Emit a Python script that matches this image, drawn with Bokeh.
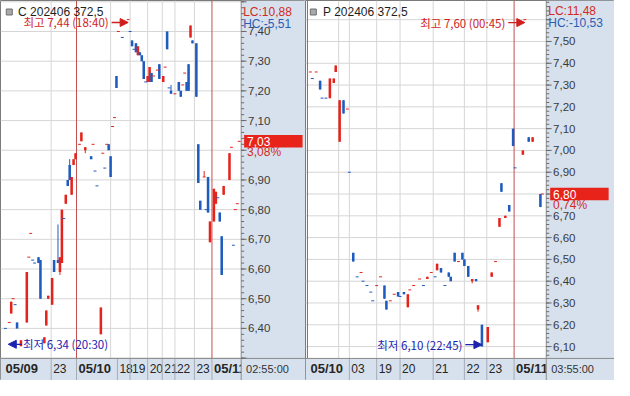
import math
import numpy as np
from bokeh.plotting import figure
from bokeh.layouts import row
from bokeh.models import ColumnDataSource, Range1d, Arrow, NormalHead
from bokeh.core.properties import value
from bokeh.embed import file_html
from bokeh.resources import INLINE

# ======================= DATA =======================
# ---- Call option  C 202406 372.5 ----
C_TITLE = "C 202406 372,5"
C_BASE = 6.82
C_SLOT = [1, 3, 4, 5, 6, 7, 9, 12, 13, 14, 15, 16, 18, 19, 21, 22, 23, 25, 26, 28,
          29, 30, 31, 32, 33, 34, 35, 36, 37, 39, 40, 42, 45, 46, 47, 48, 50, 51, 52, 53,
          54, 55, 56, 57, 58, 59, 61, 64, 65, 66, 67, 68, 69, 70, 71, 72, 73, 74, 75, 76,
          77, 79, 80, 82, 83, 84, 85, 86, 88, 90, 91, 92, 93, 94, 95, 96, 97, 99, 100, 101,
          103, 104, 105, 106, 108, 109, 110, 111, 112, 113, 116, 117, 118, 119, 120, 121]
C_OPEN = [6.40, 6.42, 6.45, 6.50, 6.48, 6.42, 6.34, 6.42, 6.64, 6.72,
          6.63, 6.62, 6.64, 6.63, 6.35, 6.41, 6.50, 6.48, 6.63, 6.63,
          6.59, 6.62, 6.77, 6.82, 6.90, 6.95, 6.85, 6.95, 6.97, 7.02,
          7.03, 7.00, 6.98, 7.02, 6.93, 6.88, 6.38, 6.99, 6.94, 7.02,
          7.02, 6.98, 7.08, 7.11, 7.25, 7.40, 7.38, 7.44, 7.40, 7.37,
          7.34, 7.36, 7.32, 7.33, 7.32, 7.30, 7.23, 7.23, 7.23, 7.26,
          7.25, 7.27, 7.29, 7.23, 7.28, 7.40, 7.21, 7.20, 7.19, 7.23,
          7.20, 7.22, 7.26, 7.23, 7.29, 7.38, 7.37, 7.36, 7.02, 6.83,
          6.91, 6.80, 6.91, 6.69, 6.76, 6.82, 6.84, 6.79, 6.71, 6.85,
          6.90, 7.01, 6.68, 6.80, 6.82, 7.03]
C_HIGH = [6.40, 6.42, 6.49, 6.50, 6.48, 6.42, 6.36, 6.59, 6.64, 6.72,
          6.63, 6.62, 6.64, 6.63, 6.37, 6.46, 6.51, 6.57, 6.63, 6.75,
          6.64, 6.80, 6.77, 6.85, 6.90, 6.97, 6.91, 6.97, 6.99, 7.02,
          7.06, 7.01, 6.98, 7.02, 6.93, 6.88, 6.47, 6.99, 6.94, 7.02,
          7.02, 6.98, 7.08, 7.11, 7.25, 7.40, 7.38, 7.44, 7.40, 7.37,
          7.34, 7.36, 7.35, 7.33, 7.32, 7.30, 7.23, 7.25, 7.28, 7.26,
          7.25, 7.27, 7.29, 7.25, 7.28, 7.40, 7.21, 7.22, 7.19, 7.23,
          7.20, 7.22, 7.26, 7.23, 7.29, 7.42, 7.37, 7.36, 7.02, 6.83,
          6.93, 6.80, 6.91, 6.76, 6.87, 6.86, 6.84, 6.79, 6.71, 6.88,
          6.99, 7.01, 6.68, 6.80, 6.82, 7.03]
C_LOW = [6.40, 6.42, 6.45, 6.50, 6.48, 6.40, 6.34, 6.42, 6.64, 6.72,
         6.63, 6.62, 6.62, 6.50, 6.35, 6.41, 6.50, 6.48, 6.59, 6.62,
         6.58, 6.62, 6.77, 6.82, 6.88, 6.90, 6.85, 6.95, 6.97, 7.02,
         7.03, 6.99, 6.97, 7.02, 6.93, 6.88, 6.38, 6.99, 6.94, 7.02,
         7.00, 6.91, 7.08, 7.11, 7.21, 7.40, 7.38, 7.44, 7.40, 7.35,
         7.34, 7.33, 7.32, 7.32, 7.30, 7.24, 7.23, 7.23, 7.23, 7.23,
         7.25, 7.27, 7.24, 7.23, 7.28, 7.34, 7.21, 7.19, 7.19, 7.20,
         7.18, 7.22, 7.26, 7.20, 7.20, 7.38, 7.36, 7.18, 6.89, 6.80,
         6.91, 6.80, 6.79, 6.69, 6.76, 6.82, 6.84, 6.76, 6.58, 6.85,
         6.90, 7.01, 6.68, 6.80, 6.82, 7.03]
C_CLOSE = [6.40, 6.42, 6.49, 6.50, 6.48, 6.40, 6.36, 6.59, 6.64, 6.72,
           6.63, 6.62, 6.62, 6.50, 6.37, 6.46, 6.51, 6.57, 6.59, 6.62,
           6.64, 6.80, 6.77, 6.85, 6.88, 6.90, 6.91, 6.97, 6.99, 7.02,
           7.06, 7.01, 6.97, 7.02, 6.93, 6.88, 6.47, 6.99, 6.94, 7.02,
           7.00, 6.91, 7.08, 7.11, 7.21, 7.40, 7.38, 7.44, 7.40, 7.35,
           7.34, 7.33, 7.35, 7.32, 7.30, 7.24, 7.23, 7.25, 7.28, 7.23,
           7.25, 7.27, 7.24, 7.25, 7.28, 7.34, 7.21, 7.19, 7.19, 7.20,
           7.18, 7.22, 7.26, 7.20, 7.20, 7.42, 7.36, 7.18, 6.89, 6.80,
           6.91, 6.80, 6.79, 6.76, 6.87, 6.86, 6.84, 6.76, 6.58, 6.88,
           6.99, 7.01, 6.68, 6.80, 6.82, 7.03]
C_DIR = list("duuudduuuu" "dddduuuudd" "uududduuuu" "uududduudu" "dduudududd"
             "ddudddduud" "uuduudddud" "duuddudddd" "udduuudddu" "uuduuu")
C_HIGH_TIME = "18:40"
C_LOW_TIME = "20:30"
C_HOUR_LINES = [24.5, 55, 65, 74, 81.5, 88, 98]
C_DAY_LINES = [37.5, 107]
C_XTICK_POS = [0, 24.5, 37.5, 58.5, 65, 74, 81.5, 88, 98, 107]
C_XTICK_LAB = ["05/09", "23", "05/10", "18", "19", "20", "21", "22", "23", "05/11"]
C_XTICK_BOLD = [1, 0, 1, 0, 0, 0, 0, 0, 0, 1]
C_CLOCK = "02:55:00"
C_YTICK_LAB = [6.40, 6.50, 6.60, 6.70, 6.80, 6.90, 7.10, 7.20, 7.30, 7.40]

# ---- Put option  P 202406 372.5 ----
P_TITLE = "P 202406 372,5"
P_BASE = 6.75
P_SLOT = [1, 2, 4, 6, 7, 9, 11, 13, 14, 16, 18, 20, 21, 23, 25, 27, 28, 30, 32, 33,
          35, 37, 39, 40, 42, 44, 46, 47, 49, 51, 52, 54, 57, 59, 61, 63, 65, 66, 68, 70,
          72, 73, 75, 77, 79, 80, 82, 84, 86, 87, 89, 92, 94, 96, 98, 99, 101, 103, 105, 106,
          110, 111, 113, 115, 119, 120]
P_OPEN = [7.36, 7.33, 7.36, 7.32, 7.24, 7.24, 7.24, 7.31, 7.36, 7.04,
          7.23, 7.19, 6.90, 6.53, 6.42, 6.44, 6.40, 6.38, 6.35, 6.31,
          6.38, 6.42, 6.38, 6.31, 6.31, 6.34, 6.35, 6.33, 6.35, 6.28,
          6.36, 6.38, 6.41, 6.38, 6.41, 6.44, 6.42, 6.45, 6.46, 6.38,
          6.44, 6.42, 6.53, 6.49, 6.53, 6.50, 6.47, 6.40, 6.41, 6.27,
          6.20, 6.12, 6.42, 6.49, 6.65, 6.85, 6.69, 6.75, 7.10, 6.92,
          6.98, 7.60, 7.06, 7.04, 6.80, 6.80]
P_HIGH = [7.36, 7.33, 7.36, 7.32, 7.24, 7.24, 7.33, 7.33, 7.39, 7.23,
          7.23, 7.19, 6.90, 6.53, 6.42, 6.44, 6.40, 6.38, 6.35, 6.31,
          6.38, 6.42, 6.38, 6.31, 6.31, 6.34, 6.35, 6.33, 6.35, 6.34,
          6.36, 6.38, 6.41, 6.38, 6.42, 6.44, 6.42, 6.48, 6.46, 6.38,
          6.44, 6.42, 6.53, 6.49, 6.53, 6.50, 6.47, 6.41, 6.41, 6.29,
          6.20, 6.19, 6.44, 6.49, 6.69, 6.85, 6.70, 6.75, 7.10, 6.92,
          7.00, 7.60, 7.06, 7.06, 6.80, 6.80]
P_LOW = [7.36, 7.33, 7.36, 7.28, 7.24, 7.24, 7.24, 7.31, 7.36, 7.04,
         7.17, 7.19, 6.90, 6.49, 6.42, 6.44, 6.40, 6.38, 6.35, 6.31,
         6.38, 6.42, 6.32, 6.27, 6.31, 6.34, 6.33, 6.33, 6.34, 6.28,
         6.36, 6.38, 6.41, 6.38, 6.41, 6.44, 6.42, 6.45, 6.44, 6.38,
         6.42, 6.40, 6.49, 6.49, 6.50, 6.47, 6.42, 6.39, 6.40, 6.26,
         6.10, 6.12, 6.42, 6.49, 6.65, 6.81, 6.69, 6.72, 7.02, 6.92,
         6.98, 7.60, 7.04, 7.04, 6.74, 6.80]
P_CLOSE = [7.36, 7.33, 7.36, 7.28, 7.24, 7.24, 7.33, 7.33, 7.39, 7.23,
           7.17, 7.19, 6.90, 6.49, 6.42, 6.44, 6.40, 6.38, 6.35, 6.31,
           6.38, 6.42, 6.32, 6.27, 6.31, 6.34, 6.33, 6.33, 6.34, 6.34,
           6.36, 6.38, 6.41, 6.38, 6.42, 6.44, 6.42, 6.48, 6.44, 6.38,
           6.42, 6.40, 6.49, 6.49, 6.50, 6.47, 6.42, 6.41, 6.40, 6.29,
           6.10, 6.19, 6.44, 6.49, 6.69, 6.81, 6.70, 6.72, 7.02, 6.92,
           7.00, 7.60, 7.04, 7.06, 6.74, 6.80]
P_DIR = list("ududdduuuu" "dudddudddd" "uudduudddu" "uuuduududd" "dddudddudu"
             "duuuududdd" "uududu")
P_HIGH_TIME = "00:45"
P_LOW_TIME = "22:45"
P_HOUR_LINES = [15.5, 21, 35, 47, 64, 80, 91.5]
P_DAY_LINES = [-0.5, 105.5]
P_XTICK_POS = [0, 21, 35, 47, 64, 80, 91.5, 105.5]
P_XTICK_LAB = ["05/10", "03", "19", "20", "21", "22", "23", "05/11"]
P_XTICK_BOLD = [1, 0, 0, 0, 0, 0, 0, 1]
P_CLOCK = "03:55:00"
P_YTICK_LAB = [6.10, 6.20, 6.30, 6.40, 6.50, 6.60, 6.70, 6.90, 7.00, 7.10,
               7.20, 7.30, 7.40, 7.50]

# ======================= STYLE / LAYOUT =======================
RED, BLUE = "#E4241C", "#1E5BBE"
DAY = "#C25050"
GRID = "#D6D6D6"
AXBG = "#D6E1ED"
EDGE = "#8A8A8A"
SEP = "#A4ACB8"
TICK = "#6A6A6A"
TXT = "#3A3A3A"
LC_RED, HC_BLUE = "#D22A22", "#2B5DB5"
HI_RED, LO_BLUE = "#D01E1E", "#1C22B0"
BOX_RED = "#E8231A"
FONT = value("Liberation Sans")
KFONT = value("Noto Sans CJK KR")
PITCH = 2.0            # reference px per slot
STRIP_TOP, STRIP_MID, FULL_H = 373, 384, 396

C_LAY = dict(left=0, right=313, x0=3, axis=247, y_ref=32.3, p_ref=7.40, ppu=309.4,
             box=(250, 310), lc_x=249, lc_y=(12, 24), icon=9, title=18, pct_dy=11.5)
P_LAY = dict(left=313, right=630, x0=316, axis=560, y_ref=42.7, p_ref=7.50, ppu=227.1,
             box=(564, 624), lc_x=562, lc_y=(11, 23), icon=321, title=331, pct_dy=11.0)


def fmt(v):
    return f"{v:.2f}".replace(".", ",")


def build(d, L, width):
    sx = lambda px: (px - L["x0"]) / PITCH
    py = lambda ypx: L["p_ref"] - (ypx - L["y_ref"]) / L["ppu"]
    dy = lambda n: n / L["ppu"]
    x_lo, x_hi = sx(L["left"]), sx(L["right"])
    y_lo, y_hi = py(FULL_H), py(0)
    xa, ys = sx(L["axis"]), py(STRIP_TOP)

    p = figure(width=width, height=380, x_range=Range1d(x_lo, x_hi), y_range=Range1d(y_lo, y_hi),
               output_backend="svg", toolbar_location=None, x_axis_location=None,
               y_axis_location=None, min_border=0, outline_line_color="#7A7A7A",
               background_fill_color="white", border_fill_color="white")
    p.grid.visible = False

    # bottom time strip
    p.quad(left=[x_lo], right=[xa], bottom=[y_lo], top=[ys], fill_color=AXBG, line_color=None)
    lab = ColumnDataSource(dict(x=d["xpos"], t=d["xlab"],
                                fs=["bold" if b else "normal" for b in d["xbold"]],
                                sz=["13px" if b else "12px" for b in d["xbold"]]))
    p.text(x="x", y=py(STRIP_MID), text="t", source=lab, x_offset=2, text_font=FONT,
           text_font_size="sz", text_font_style="fs", text_color="#262626",
           text_align="left", text_baseline="middle")

    # price axis panel
    p.quad(left=[xa], right=[x_hi], bottom=[y_lo], top=[y_hi], fill_color=AXBG, line_color=None)

    major = np.round(np.arange(math.ceil(ys * 10 - 1e-6) / 10, y_hi, 0.1), 2)
    minor = np.round(np.arange(math.ceil(ys * 50 - 1e-6) / 50, y_hi, 0.02), 2)

    # grid
    p.segment(x0=x_lo, y0=major, x1=xa, y1=major, line_color=GRID, line_width=1)
    p.segment(x0=d["hours"], y0=ys, x1=d["hours"], y1=y_hi, line_color=GRID, line_width=1)
    p.segment(x0=d["days"], y0=ys, x1=d["days"], y1=y_hi, line_color=DAY, line_width=1)

    # bars
    slot = np.array(d["slot"], dtype=float)
    o, h, l, c = (np.array(d[k], dtype=float) for k in ("open", "high", "low", "close"))
    col = np.array([RED if k == "u" else BLUE for k in d["dir"]])
    p.segment(x0=slot, y0=l, x1=slot, y1=h, line_color=col, line_width=1)
    body = np.abs(o - c) > 1e-9
    p.quad(left=slot[body] - 0.65, right=slot[body] + 0.65,
           bottom=np.minimum(o, c)[body], top=np.maximum(o, c)[body],
           fill_color=col[body], line_color=None)
    dj = ~body
    p.segment(x0=slot[dj] - 0.75, y0=c[dj], x1=slot[dj] + 0.75, y1=c[dj],
              line_color=col[dj], line_width=1)

    # separators and borders
    seps = [x for x in d["xpos"] if x > 0]
    p.segment(x0=seps, y0=y_lo, x1=seps, y1=ys, line_color=SEP, line_width=1)
    p.segment(x0=[x_lo], y0=[ys], x1=[x_hi], y1=[ys], line_color=EDGE, line_width=1)
    p.segment(x0=[xa], y0=[y_lo], x1=[xa], y1=[y_hi], line_color=EDGE, line_width=1)

    # price ticks + labels
    p.segment(x0=xa, y0=minor, x1=xa + 1.5, y1=minor, line_color=TICK, line_width=1)
    p.segment(x0=xa, y0=major, x1=xa + 2.75, y1=major, line_color=TICK, line_width=1)
    p.text(x=xa + 3.5, y=d["ylab"], text=[fmt(v) for v in d["ylab"]], text_font=FONT,
           text_font_size="11.5px", text_color=TXT, text_align="left", text_baseline="middle")

    p.text(x=[sx(L["axis"] + 5)], y=[py(STRIP_MID)], text=[d["clock"]], text_font=FONT,
           text_font_size="11px", text_color="#333333", text_align="left", text_baseline="middle")

    # statistics
    last = c[-1]
    hi_i, lo_i = int(np.argmax(h)), int(np.argmin(l))
    hi_v, lo_v = h[hi_i], l[lo_i]
    lc = (last - lo_v) / lo_v * 100
    hc = (last - hi_v) / hi_v * 100
    pct = (last - d["base"]) / d["base"] * 100

    p.text(x=[sx(L["lc_x"])], y=[py(L["lc_y"][0])], text=[f"LC:{fmt(lc)}"], text_font=FONT,
           text_font_size="12px", text_color=LC_RED, text_align="left", text_baseline="middle")
    p.text(x=[sx(L["lc_x"])], y=[py(L["lc_y"][1])], text=[f"HC:{fmt(hc)}"], text_font=FONT,
           text_font_size="12px", text_color=HC_BLUE, text_align="left", text_baseline="middle")

    b0, b1 = L["box"]
    p.quad(left=[sx(b0)], right=[sx(b1)], bottom=[last - dy(6.5)], top=[last + dy(6.5)],
           fill_color=BOX_RED, line_color=None)
    p.text(x=[sx(b0 + 3)], y=[last], text=[fmt(last)], text_font=FONT, text_font_size="12px",
           text_color="white", text_align="left", text_baseline="middle")
    p.text(x=[sx(b0 + 3)], y=[last - dy(L["pct_dy"])], text=[f"{fmt(pct)}%"], text_font=FONT,
           text_font_size="12px", text_color=LC_RED, text_align="left", text_baseline="middle")

    # title
    p.scatter(x=[sx(L["icon"])], y=[py(12)], marker="square", size=6,
              fill_color="#A9A9A9", line_color="#6E6E6E")
    p.text(x=[sx(L["title"])], y=[py(12)], text=[d["title"]], text_font=FONT,
           text_font_size="12px", text_color="#1E1E1E", text_align="left", text_baseline="middle")

    # high annotation (arrow pointing right to the bar)
    hx, hy = slot[hi_i], hi_v - dy(3)
    p.add_layout(Arrow(x_start=hx - 8.5, y_start=hy, x_end=hx, y_end=hy, line_color=HI_RED,
                       line_width=1.3, end=NormalHead(size=8, fill_color=HI_RED, line_color=HI_RED)))
    p.text(x=[hx - 10], y=[hy], text=[f"최고 {fmt(hi_v)} ({d['hi_t']})"], text_font=KFONT,
           text_font_size="11.5px", text_color=HI_RED, text_align="right", text_baseline="middle")

    # low annotation
    lx, ly = slot[lo_i], lo_v + dy(2)
    if lx < 30:
        p.add_layout(Arrow(x_start=lx + 0.5, y_start=ly, x_end=lx - 6.5, y_end=ly,
                           line_color=LO_BLUE, line_width=1.3,
                           end=NormalHead(size=8, fill_color=LO_BLUE, line_color=LO_BLUE)))
        p.text(x=[lx + 1], y=[ly], text=[f"최저 {fmt(lo_v)} ({d['lo_t']})"], text_font=KFONT,
               text_font_size="11.5px", text_color=LO_BLUE, text_align="left", text_baseline="middle")
    else:
        p.add_layout(Arrow(x_start=lx - 8.5, y_start=ly, x_end=lx, y_end=ly,
                           line_color=LO_BLUE, line_width=1.3,
                           end=NormalHead(size=8, fill_color=LO_BLUE, line_color=LO_BLUE)))
        p.text(x=[lx - 10], y=[ly], text=[f"최저 {fmt(lo_v)} ({d['lo_t']})"], text_font=KFONT,
               text_font_size="11.5px", text_color=LO_BLUE, text_align="right", text_baseline="middle")
    return p


c_data = dict(title=C_TITLE, base=C_BASE, slot=C_SLOT, open=C_OPEN, high=C_HIGH, low=C_LOW,
              close=C_CLOSE, dir=C_DIR, hi_t=C_HIGH_TIME, lo_t=C_LOW_TIME, hours=C_HOUR_LINES,
              days=C_DAY_LINES, xpos=C_XTICK_POS, xlab=C_XTICK_LAB, xbold=C_XTICK_BOLD,
              clock=C_CLOCK, ylab=C_YTICK_LAB)
p_data = dict(title=P_TITLE, base=P_BASE, slot=P_SLOT, open=P_OPEN, high=P_HIGH, low=P_LOW,
              close=P_CLOSE, dir=P_DIR, hi_t=P_HIGH_TIME, lo_t=P_LOW_TIME, hours=P_HOUR_LINES,
              days=P_DAY_LINES, xpos=P_XTICK_POS, xlab=P_XTICK_LAB, xbold=P_XTICK_BOLD,
              clock=P_CLOCK, ylab=P_YTICK_LAB)

p1 = build(c_data, C_LAY, 305)
p2 = build(p_data, P_LAY, 309)
layout = row(p1, p2)

open("out.html", "w").write(file_html(layout, INLINE))
